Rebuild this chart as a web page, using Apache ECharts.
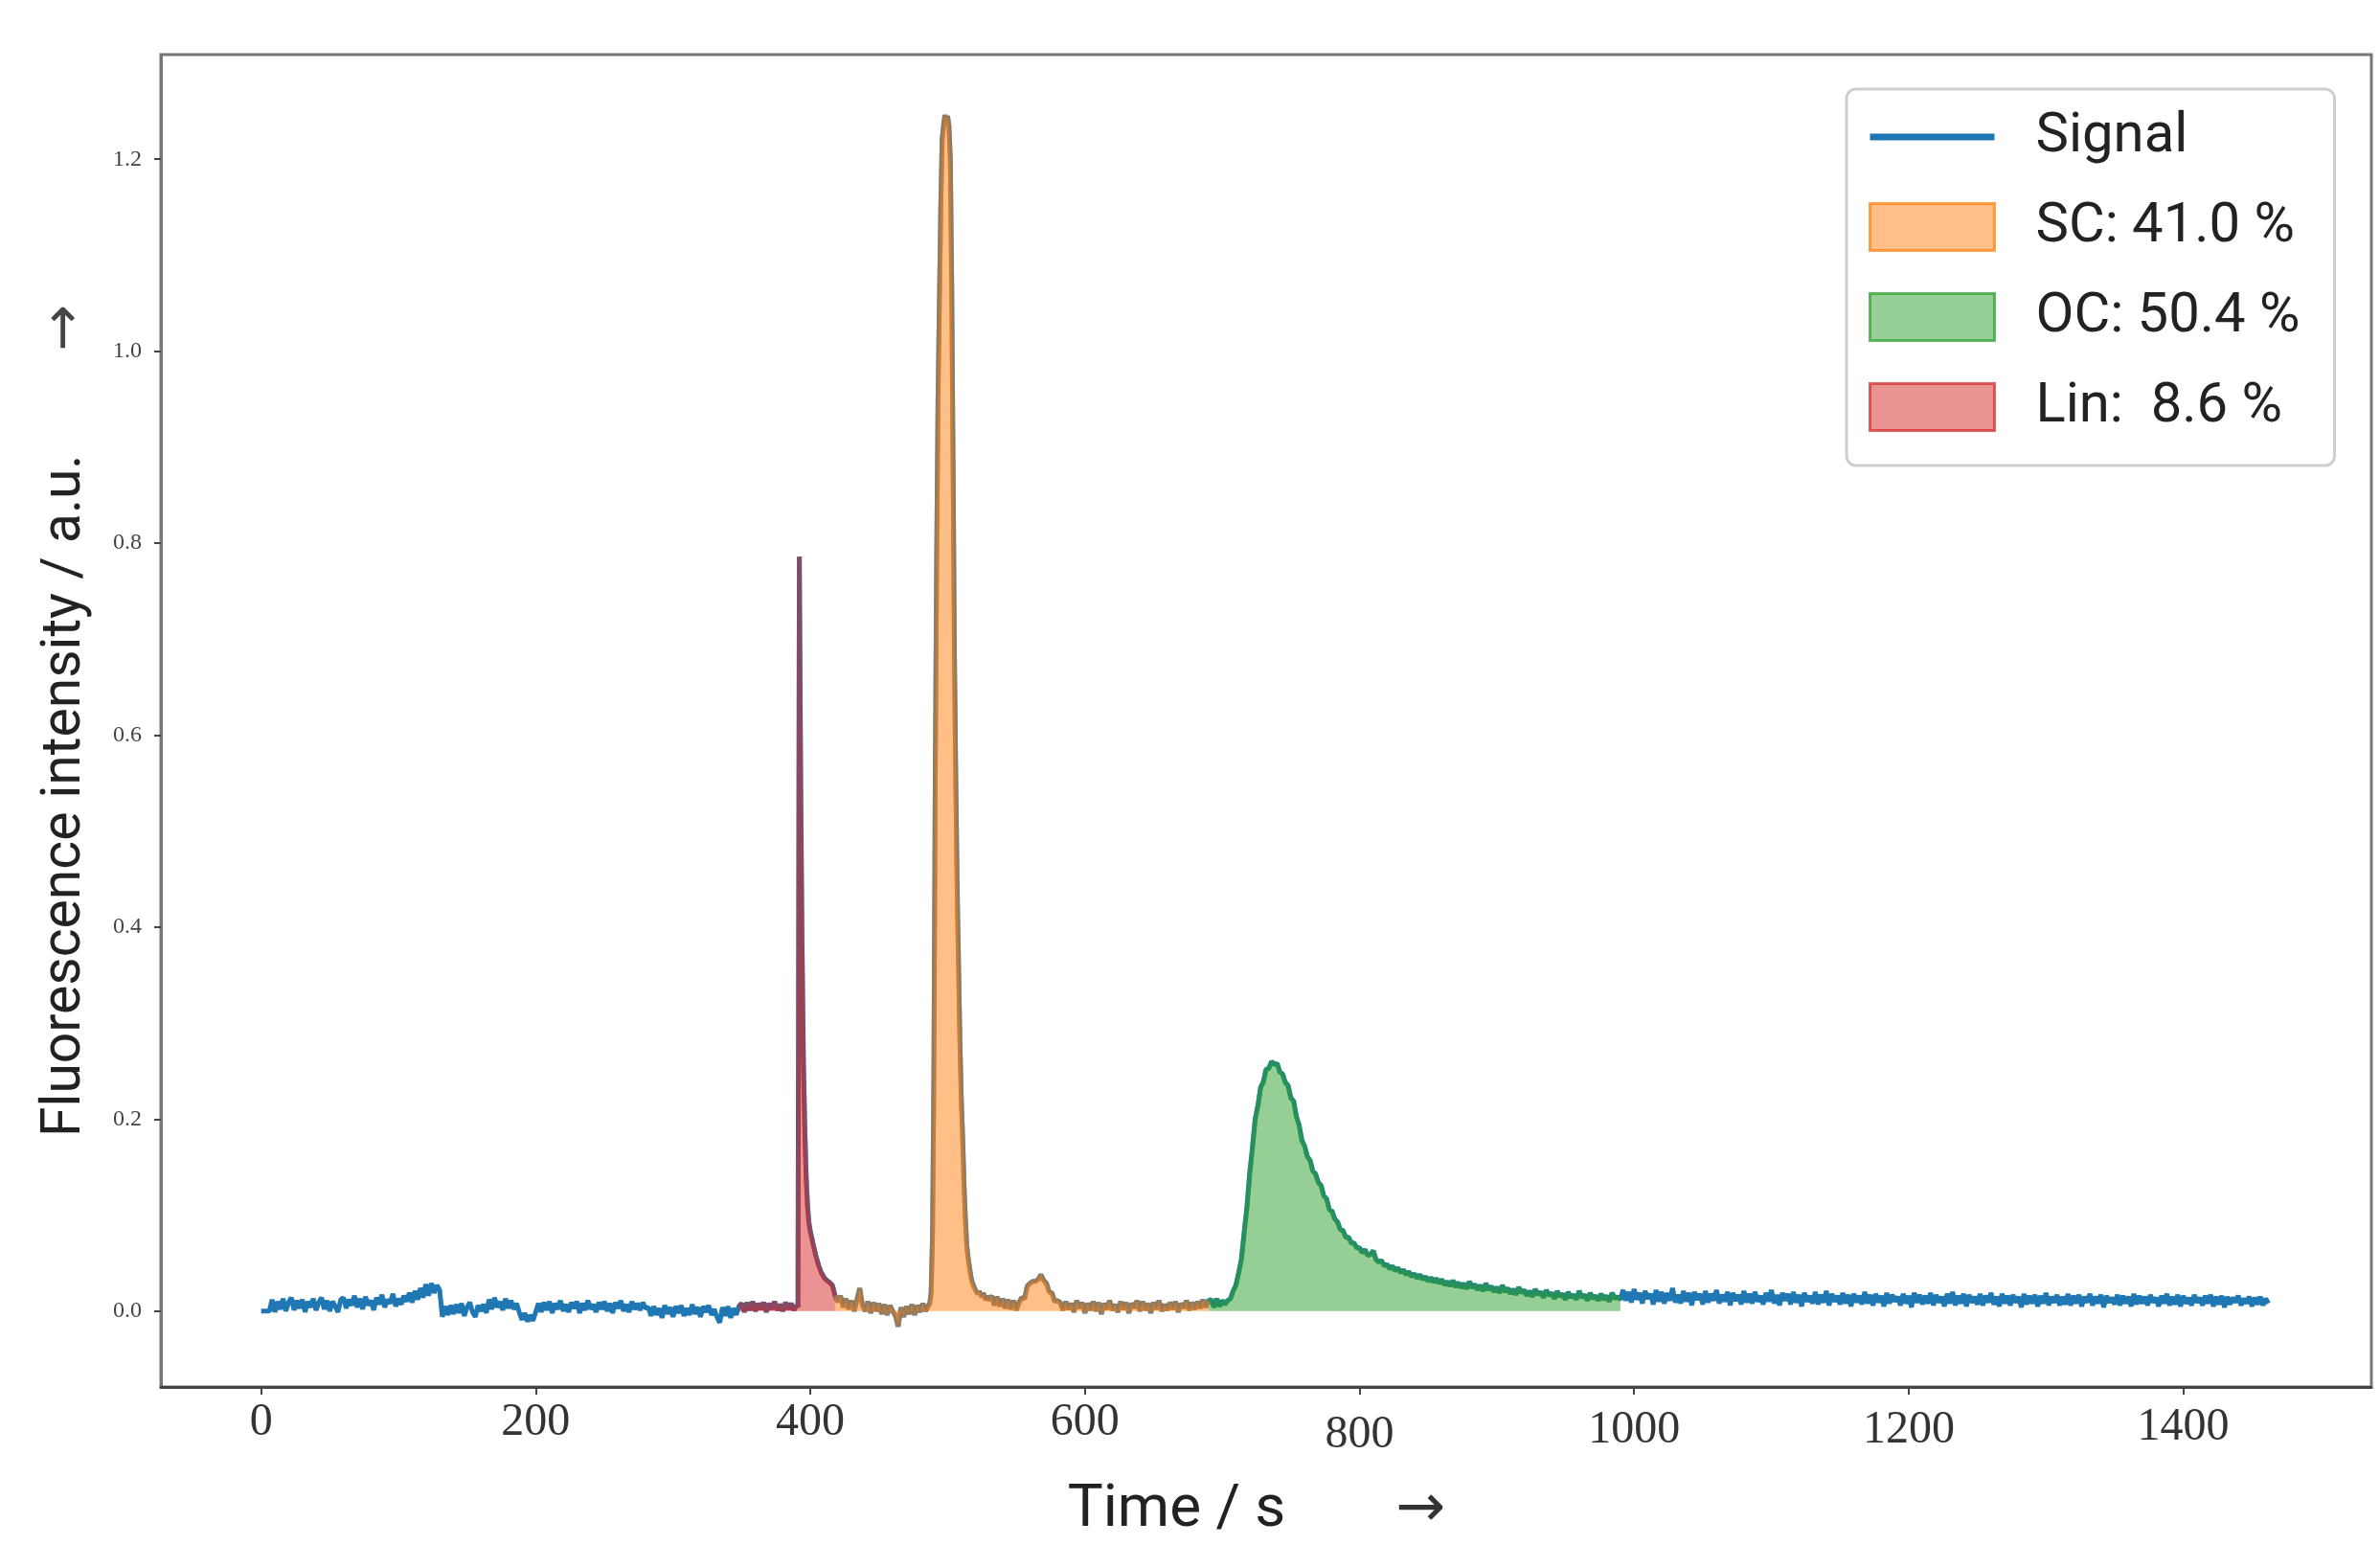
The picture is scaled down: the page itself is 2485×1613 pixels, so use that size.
<!DOCTYPE html>
<html><head><meta charset="utf-8">
<script src="https://cdn.jsdelivr.net/npm/echarts@6/dist/echarts.min.js"></script>
<style>html,body{margin:0;padding:0;background:#fff}#c{width:2485px;height:1613px}</style>
</head><body><div id="c"></div>
<script>
// ---- data ----
// baseline, t = 0..130 s, every 2 s
const base0 = [0,0,0,0,
.012,-.001,.010,.002,.013,.000,.009,.014,.001,.011,.003,.012,-.001,.010,.004,.013,.001,.009,.014,.002,.011,.000,.010,.005,-.001,.012,
.014,.003,.012,.006,.016,.004,.013,.002,.015,.006,.011,.001,.014,.007,.017,.004,.012,.008,.018,.005,.013,.007,.016,
.010,.019,.009,.021,.012,.024,.014,.028,.016,.029,.019,.027,.022];
// t = 132..280 s, every 2 s
const base1 = [-.006,.005,-.004,.006,-.003,.007,-.002,.008,-.005,.004,.009,-.001,-.006,.006,.000,.007,-.002,
.012,.002,.014,.004,.010,.001,.013,.003,.011,.002,.008,
-.001,-.009,-.002,-.011,-.004,-.010,-.001,
.008,-.001,.009,.001,.010,-.002,.008,.002,.011,.000,.007,-.001,.009,.003,.010,-.002,.008,.001,.011,.002,
.007,-.001,.009,.002,.010,.000,.008,-.002,.009,.003,.011,.000,.007,-.001,.010,.002,.008,.001,.009,.003];
// t = 282..390 s, every 2 s
const base2 = [.004,-.005,.005,-.004,.003,-.007,.006,-.003,.004,-.006,.005,-.002,.006,-.005,.003,-.004,.007,-.003,.004,-.006,
.005,-.001,.006,-.004,.002,-.006,-.012,.004,-.005,.005,-.007,.003,-.004,.005,
.008,-.001,.009,.001,.010,.000,.008,.002,.009,-.001,.008,.002,.010,.001,.007,.000,.009,.002,.008,.001,.006];
// t = 391..420 s, every 1 s (Lin peak)
const spikeLin = [.004,.786,.55,.38,.26,.19,.14,.11,.092,.083,.077,.070,.064,.058,.053,.048,.044,.040,.038,.035,
.034,.032,.031,.030,.029,.027,.022,.016,.012,.010];
// t = 422..486 s, every 2 s
const base3 = [.016,.004,.013,.002,.011,.000,.012,.024,.006,.000,.010,-.002,.009,.000,.008,-.003,.007,-.004,.006,.000,
-.005,-.016,.004,-.006,.005,-.003,.007,-.004,.006,-.001,.008,.000,.006];
// t = 487..530 s, every 1 s (SC peak)
const spikeSC = [.008,.020,.080,.250,.560,.780,.950,1.05,1.15,1.22,1.235,1.246,1.24,1.245,1.235,1.20,1.07,.88,.68,.55,
.44,.36,.28,.22,.18,.13,.095,.068,.055,.045,.036,.030,.026,.023,.020,.018,.021,.017,.015,.019,.014,.012,.016,.011];
// t = 532..580 s, every 2 s (small bump)
const bumpSC = [.016,.006,.015,.005,.013,.003,.012,.002,.011,.001,.009,
.014,.013,.026,.029,.031,.031,.033,.038,.032,.029,.020,.019,.010,.011];
// t = 582..702 s, every 2 s
const flat2 = [.009,.001,.010,.002,.008,-.001,.011,.003,.009,-.002,.008,.001,.010,.000,.009,-.003,.008,.002,.011,.001,
.007,-.001,.010,.002,.009,-.002,.008,.003,.011,.000,.010,.001,.008,-.002,.009,.002,.011,.000,.007,.001,
.009,.002,.010,-.001,.008,.003,.011,.001,.009,.002,.010,.003,.012,.004,.011,
.012,.004,.013,.005,.011,.007];
// t = 704..990 s, every 2 s (OC peak)
const peakOC = [.011,.013,.021,.027,.040,.054,.082,.108,.143,.170,.200,.214,.233,.239,.252,.253,.260,.257,.258,.249,
.247,.238,.235,.222,.219,.203,.194,.178,.172,.161,.157,.146,.143,.134,.131,.120,.117,.106,.104,.096,
.093,.085,.084,.077,.077,.071,.071,.066,.066,.061,.064,.058,.059,.063,.054,.051,.053,.047,.049,.044,
.047,.042,.045,.040,.043,.038,.041,.036,.039,.034,.038,.033,.036,.031,.035,.030,.034,.029,.033,.027,
.031,.026,.032,.025,.030,.024,.029,.023,.031,.024,.028,.022,.027,.021,.029,.022,.026,.020,.025,.019,
.027,.020,.024,.018,.023,.017,.025,.019,.022,.016,.021,.015,.023,.017,.020,.014,.022,.016,.019,.013,
.021,.015,.018,.012,.020,.014,.017,.012,.021,.014,.017,.011,.019,.013,.016,.011,.018,.012,.016,.010,
.019,.013,.015,.012];
// t = 992..1462 s, every 2 s
const tail = [.022,.011,.020,.009,.023,.012,.019,.008,.021,.013,
.018,.007,.022,.010,.020,.008,.019,.011,.024,.009,
.017,.008,.021,.010,.019,.006,.020,.012,.018,.007,
.021,.009,.018,.011,.022,.008,.017,.010,.020,.006,
.019,.011,.017,.007,.021,.009,.018,.008,.020,.010,
.016,.007,.019,.010,.022,.008,.017,.006,.019,.011,
.018,.007,.020,.009,.017,.005,.019,.010,.016,.008,
.020,.007,.017,.009,.021,.006,.018,.010,.016,.007,
.019,.008,.017,.005,.018,.009,.016,.007,.020,.008,
.017,.006,.018,.009,.016,.005,.019,.008,.017,.010,
.015,.006,.018,.008,.016,.004,.019,.009,.017,.007,
.016,.008,.019,.006,.017,.009,.015,.005,.018,.008,
.020,.006,.016,.008,.018,.005,.017,.009,.015,.007,
.018,.006,.016,.009,.019,.007,.015,.005,.018,.008,
.016,.006,.017,.009,.015,.004,.018,.007,.016,.008,
.017,.005,.016,.008,.019,.006,.015,.009,.017,.006,
.015,.007,.018,.006,.016,.008,.017,.005,.015,.009,
.018,.006,.015,.008,.017,.004,.016,.009,.014,.007,
.017,.006,.016,.008,.015,.005,.018,.007,.016,.008,
.015,.006,.017,.009,.014,.005,.016,.008,.018,.006,
.015,.007,.017,.005,.016,.008,.014,.006,.017,.009,
.014,.006,.016,.008,.017,.005,.015,.007,.016,.004,
.015,.007,.014,.009,.016,.006,.013,.008,.015,.005,
.014,.007,.015,.006,.013,.008];

const segStarts = [0, 132, 282, 391, 422, 487, 532, 582, 704, 992];
const segSteps  = [2, 2, 2, 1, 2, 1, 2, 2, 2, 2];
const segValues = [base0, base1, base2, spikeLin, base3, spikeSC, bumpSC, flat2, peakOC, tail];

const regionNames = ['SC: 41.0 %', 'OC: 50.4 %', 'Lin:  8.6 %'];
const regionFrom = [418, 690, 348];
const regionTo   = [690, 990, 418];

const xTicks = [0, 200, 400, 600, 800, 1000, 1200, 1400];
const yTicks = [0, 0.2, 0.4, 0.6, 0.8, 1.0, 1.2];

// ---- build ----
const signal = [];
segValues.forEach((vals, k) => vals.forEach((v, i) => signal.push([segStarts[k] + i * segSteps[k], v])));

const regionRGB = ['255,127,14', '44,160,44', '214,39,40'];
const series = [{
  name: 'Signal', type: 'line', data: signal, symbol: 'none', showSymbol: false,
  lineStyle: {color: '#1f77b4', width: 5}, itemStyle: {color: '#1f77b4'}, z: 2, silent: true
}];
regionNames.forEach((nm, k) => {
  const c = regionRGB[k];
  series.push({
    name: nm, type: 'line', symbol: 'none', showSymbol: false, silent: true, z: 3,
    data: signal.filter(p => p[0] >= regionFrom[k] && p[0] <= regionTo[k]),
    lineStyle: {color: `rgba(${c},0.5)`, width: 5},
    itemStyle: {color: `rgba(${c},0.5)`},
    areaStyle: {color: `rgba(${c},0.5)`, opacity: 1}
  });
});

const serif = 'Liberation Serif';
const sans = 'Roboto';
const xDrop = {800: 'd13', 1000: 'd8', 1200: 'd8', 1400: 'd5'};
const richX = {};
[['d0',0],['d5',5],['d8',8],['d13',13]].forEach(([k,p]) => {
  richX[k] = {fontFamily: serif, fontSize: 48, color: '#333', padding: [p,0,0,0]};
});

const chart = echarts.init(document.getElementById('c'));
chart.setOption({
  animation: false,
  backgroundColor: '#fff',
  grid: {left: 168, right: 9, top: 57, bottom: 164, show: true, borderColor: '#777', borderWidth: 3, backgroundColor: 'transparent'},
  xAxis: {
    type: 'value', min: -73, max: 1537,
    name: '{t|Time / s}{a|→}', nameLocation: 'middle', nameGap: 98,
    nameTextStyle: {rich: {
      t: {fontFamily: sans, fontSize: 62, color: '#222'},
      a: {fontFamily: 'DejaVu Sans', fontSize: 62, color: '#333', padding: [0,20,0,115]}
    }},
    axisLine: {show: true, onZero: false, lineStyle: {color: '#444', width: 3}},
    axisTick: {show: true, length: 8, lineStyle: {color: '#444', width: 2}, customValues: xTicks},
    axisLabel: {customValues: xTicks, margin: 13, formatter: v => `{${xDrop[v] || 'd0'}|${v}}`, rich: richX},
    splitLine: {show: false}
  },
  yAxis: {
    type: 'value', min: -0.079, max: 1.309,
    name: '{t|Fluorescence intensity / a.u.}{a|→}', nameLocation: 'middle', nameGap: 70, nameRotate: 90,
    nameTextStyle: {rich: {
      t: {fontFamily: sans, fontSize: 57, color: '#222', padding: [0,0,0,0]},
      a: {fontFamily: 'DejaVu Sans', fontSize: 58, color: '#444', padding: [0,0,0,108]}
    }},
    axisLine: {show: true, onZero: false, lineStyle: {color: '#777', width: 3}},
    axisTick: {show: true, length: 7, lineStyle: {color: '#444', width: 2}, customValues: yTicks},
    axisLabel: {customValues: yTicks, margin: 20, fontFamily: serif, fontSize: 24, color: '#444', formatter: v => v.toFixed(1)},
    splitLine: {show: false}
  },
  legend: {
    orient: 'vertical', left: 1928, top: 93,
    itemWidth: 130, itemHeight: 49, itemGap: 36,
    padding: [21, 36, 32, 23],
    backgroundColor: 'rgba(255,255,255,0.8)', borderColor: '#cfcfcf', borderWidth: 3, borderRadius: 10,
    selectedMode: false,
    textStyle: {fontFamily: sans, fontSize: 58, color: '#222', padding: [0,0,0,38]},
    data: [
      {name: 'Signal', icon: 'path://M0,0H130V7H0Z', itemStyle: {color: '#1f77b4', borderWidth: 0}},
      {name: regionNames[0], icon: 'rect', itemStyle: {color: 'rgba(255,127,14,0.5)', borderColor: 'rgba(255,127,14,0.72)', borderWidth: 3}},
      {name: regionNames[1], icon: 'rect', itemStyle: {color: 'rgba(44,160,44,0.5)', borderColor: 'rgba(44,160,44,0.72)', borderWidth: 3}},
      {name: regionNames[2], icon: 'rect', itemStyle: {color: 'rgba(214,39,40,0.5)', borderColor: 'rgba(214,39,40,0.72)', borderWidth: 3}}
    ]
  },
  series: series
});
</script>
</body></html>
